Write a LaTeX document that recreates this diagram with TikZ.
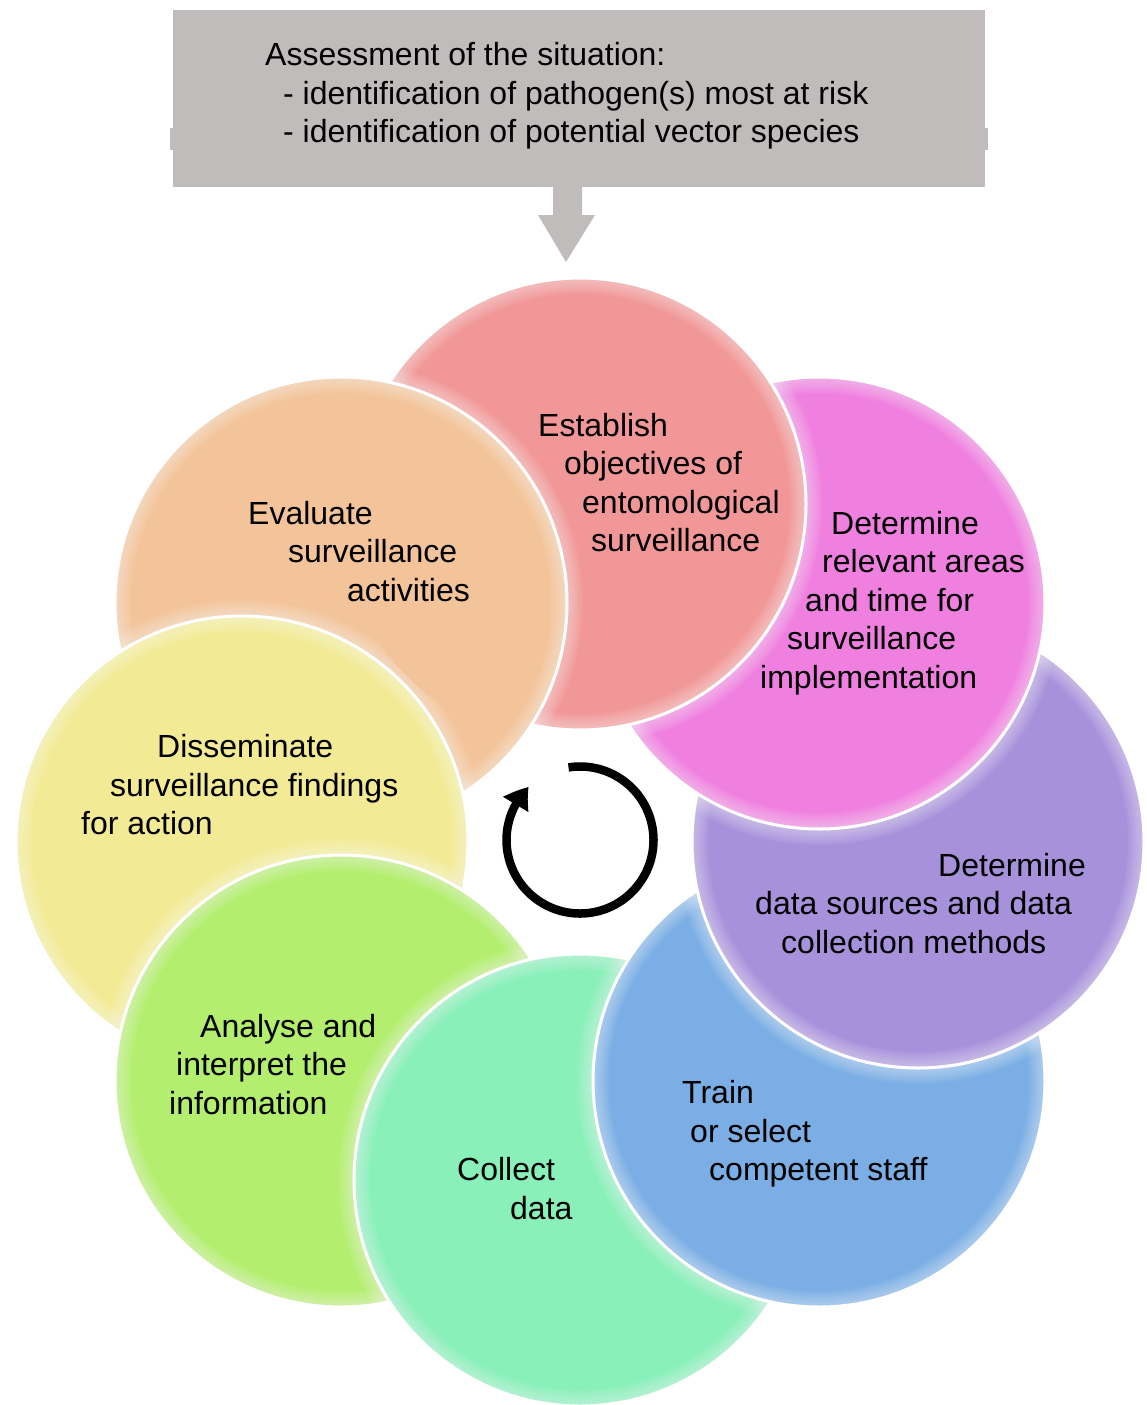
\documentclass[tikz,border=0pt]{standalone}
\usepackage{fontspec}
\setmainfont{Liberation Sans}
\usetikzlibrary{arrows.meta,bending}
\definecolor{boxgray}{HTML}{C1BCBC}
\definecolor{cRed}{HTML}{F29797}
\definecolor{cMag}{HTML}{F080E0}
\definecolor{cPur}{HTML}{A891DB}
\definecolor{cBlu}{HTML}{7AAEE4}
\definecolor{cMin}{HTML}{8AF0BA}
\definecolor{cLim}{HTML}{B3EE6F}
\definecolor{cYel}{HTML}{F3EA96}
\definecolor{cOra}{HTML}{F3C499}
\newcommand{\ringdisc}[2]{%
  \fill[#2] (#1) circle[radius=226];
  \foreach \w in {32,28,...,4}{
    \draw[white, opacity=0.06, line width=\w pt] (#1) circle[radius=226];
  }
  \draw[white, line width=3pt] (#1) circle[radius=226];
}
\begin{document}
\begin{tikzpicture}[x=1pt,y=-1pt,
  lbl/.style={anchor=base west, inner sep=0pt, font=\fontsize{32}{38}\selectfont, text=black}]
\useasboundingbox (0,0) rectangle (1147,1405);
\fill[white] (0,0) rectangle (1147,1405);

% top box
\node[fill=boxgray, minimum width=812pt, minimum height=177pt, inner sep=0pt, anchor=north west] (assess) at (173,10) {};
\fill[boxgray] (170,128) rectangle (173,150);
\fill[boxgray] (985,128) rectangle (988,150);
\node[lbl] (a1) at (265,66) {Assessment of the situation:};
\node[lbl] (a2) at (283,104) {- identification of pathogen(s) most at risk};
\node[lbl] (a3) at (283,142) {- identification of potential vector species};

% block arrow
\coordinate (arrtop) at (567,187);
\coordinate (arrtip) at (566,262);
\fill[boxgray] ([shift={(-14,0)}]arrtop) -- ([shift={(15,0)}]arrtop) -- ([shift={(15,28)}]arrtop)
  -- ([shift={(29,-47)}]arrtip) -- (arrtip) -- ([shift={(-28,-47)}]arrtip) -- ([shift={(-14,28)}]arrtop) -- cycle;

% circle centres
\coordinate (ring) at (580,842);
\coordinate (cEst) at (580,504);
\coordinate (cAre) at (819,603);
\coordinate (cDat) at (918,842);
\coordinate (cTra) at (819,1081);
\coordinate (cCol) at (580,1180);
\coordinate (cAna) at (341,1081);
\coordinate (cDis) at (242,842);
\coordinate (cEva) at (341,603);

\ringdisc{cEva}{cOra}
\ringdisc{cDis}{cYel}
\ringdisc{cAna}{cLim}
\ringdisc{cCol}{cMin}
\ringdisc{cTra}{cBlu}
\ringdisc{cDat}{cPur}
\ringdisc{cAre}{cMag}
\ringdisc{cEst}{cRed}
\begin{scope}
  \clip (cEst) circle[radius=244];
  \ringdisc{cEva}{cOra}
\end{scope}

% centre cycle arrow
\coordinate (loopc) at (580,840);
\draw[line width=8.5pt, -{Triangle[length=22pt,width=28pt,bend]}]
  ([shift={(261:73.5)}]loopc) arc[start angle=261, end angle=586, radius=73.5];

% texts
\node[lbl] (t11) at (538,436) {Establish};
\node[lbl] (t12) at (564,474) {objectives of};
\node[lbl] (t13) at (582,513) {entomological};
\node[lbl] (t14) at (591,551) {surveillance};

\node[lbl] (t21) at (831,534) {Determine};
\node[lbl] (t22) at (822,572) {relevant areas};
\node[lbl] (t23) at (805,611) {and time for};
\node[lbl] (t24) at (787,649) {surveillance};
\node[lbl] (t25) at (760,688) {implementation};

\node[lbl] (t31) at (938,876) {Determine};
\node[lbl] (t32) at (755,914) {data sources and data};
\node[lbl] (t33) at (781,953) {collection methods};

\node[lbl] (t41) at (682,1103) {Train};
\node[lbl] (t42) at (690,1142) {or select};
\node[lbl] (t43) at (709,1180) {competent staff};

\node[lbl] (t51) at (457,1180) {Collect};
\node[lbl] (t52) at (510,1219) {data};

\node[lbl] (t61) at (200,1037) {Analyse and};
\node[lbl] (t62) at (176,1075) {interpret the};
\node[lbl] (t63) at (169,1114) {information};

\node[lbl] (t71) at (157,757) {Disseminate};
\node[lbl] (t72) at (110,796) {surveillance findings};
\node[lbl] (t73) at (81,834) {for action};

\node[lbl] (t81) at (248,524) {Evaluate};
\node[lbl] (t82) at (288,562) {surveillance};
\node[lbl] (t83) at (347,601) {activities};
\end{tikzpicture}
\end{document}
